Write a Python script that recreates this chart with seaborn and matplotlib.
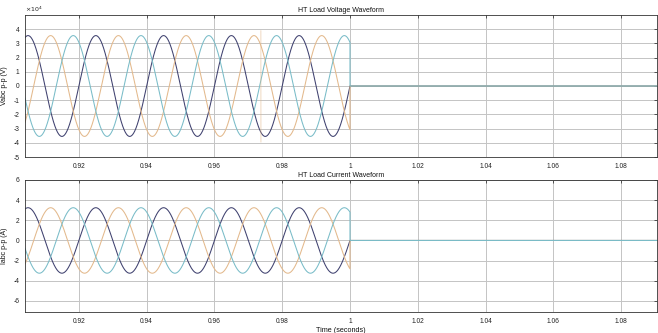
import numpy as np
import pandas as pd
import matplotlib
matplotlib.use("Agg")
import matplotlib.pyplot as plt
import seaborn as sns

# ---- values ----
phases = ["A", "B", "C"]
phase_shift_deg = [0, -120, 120]          # A peaks first, then B, then C
phase_colors = ["#3f416f", "#e3b98c", "#79bcc8"]
freq_hz = 50
v_amp = 3.55e4        # V peak
i_amp = 3.25          # A peak
t_start = 0.9041
t_cut = 1.0           # waveforms drop to zero here
t_end = 1.0906
spike_t = [0.97370, 0.97372]      # short glitch on phase B voltage
spike_v = [3.9e4, -3.95e4]

x_ticks = [0.92, 0.94, 0.96, 0.98, 1.0, 1.02, 1.04, 1.06, 1.08]
x_tick_labels = ["0.92", "0.94", "0.96", "0.98", "1", "1.02", "1.04", "1.06", "1.08"]
v_ticks = [-5e4, -4e4, -3e4, -2e4, -1e4, 0, 1e4, 2e4, 3e4, 4e4]
v_tick_labels = ["-5", "-4", "-3", "-2", "-1", "0", "1", "2", "3", "4"]
i_ticks = [-6, -4, -2, 0, 2, 4, 6]
i_tick_labels = ["-6", "-4", "-2", "0", "2", "4", "6"]
titles = ["HT Load Voltage Waveform", "HT Load Current Waveform"]
ylabels = ["Vabc p-p (V)", "Iabc p-p (A)"]
xlabel = "Time (seconds)"


def build(amp):
    t_on = np.arange(t_start, t_cut, 1e-5)
    t_on = np.append(t_on, t_cut)
    t_off = np.linspace(t_cut, t_end, 50)
    rows = []
    for ph, sh in zip(phases, phase_shift_deg):
        y_on = amp * np.sin(2 * np.pi * freq_hz * t_on + np.deg2rad(sh))
        tt = list(t_on) + list(t_off)
        yy = list(y_on) + [0.0] * len(t_off)
        rows.append(pd.DataFrame({"t": tt, "y": yy, "phase": ph}))
    return pd.concat(rows, ignore_index=True)


df_v = build(v_amp)
df_i = build(i_amp)
df_spike = pd.DataFrame({"t": spike_t, "y": spike_v})

sns.set_theme(style="white")
plt.rcParams["font.family"] = ["Liberation Sans", "DejaVu Sans"]

fig = plt.figure(figsize=(6.58, 3.33), dpi=100)
ax1 = fig.add_axes([25 / 658, 1 - 157 / 333, 632 / 658, 142 / 333])
ax2 = fig.add_axes([25 / 658, 1 - 312 / 333, 632 / 658, 132 / 333])

pal = dict(zip(phases, phase_colors))
for ax, df in [(ax1, df_v), (ax2, df_i)]:
    sns.lineplot(data=df, x="t", y="y", hue="phase", palette=pal, estimator=None,
                 sort=False, units="phase", lw=0.75, legend=False, ax=ax)

sns.lineplot(data=df_spike, x="t", y="y", estimator=None, sort=False,
             color=phase_colors[1], alpha=0.55, lw=0.7, ax=ax1)

ax1.set_ylim(-5e4, 5e4)
ax1.set_yticks(v_ticks)
ax1.set_yticklabels(v_tick_labels)
ax2.set_ylim(-7.1, 6)
ax2.set_yticks(i_ticks)
ax2.set_yticklabels(i_tick_labels)

for ax, title, yl in [(ax1, titles[0], ylabels[0]), (ax2, titles[1], ylabels[1])]:
    ax.set_xlim(t_start, t_end)
    ax.set_xticks(x_ticks)
    ax.set_xticklabels(x_tick_labels)
    ax.grid(True, color="#c4c4c4", lw=0.7)
    ax.set_axisbelow(True)
    ax.tick_params(axis="both", direction="in", length=2.5, width=0.5, labelsize=4.8,
                   top=True, right=True, pad=4, colors="#222222")
    ax.set_title(title, fontsize=5, pad=2, color="#111111")
    ax.set_ylabel(yl, fontsize=5, labelpad=4, color="#111111")
    ax.set_xlabel("")
    for s in ax.spines.values():
        s.set_color("#333333")
        s.set_linewidth(0.6)

ax2.set_xlabel(xlabel, fontsize=5.2, labelpad=2, color="#111111")
ax1.text(0.0, 1.005, r"$\times10^4$", transform=ax1.transAxes, fontsize=4.5,
         ha="left", va="bottom", color="#222222")

fig.savefig("out.png", dpi=100)
